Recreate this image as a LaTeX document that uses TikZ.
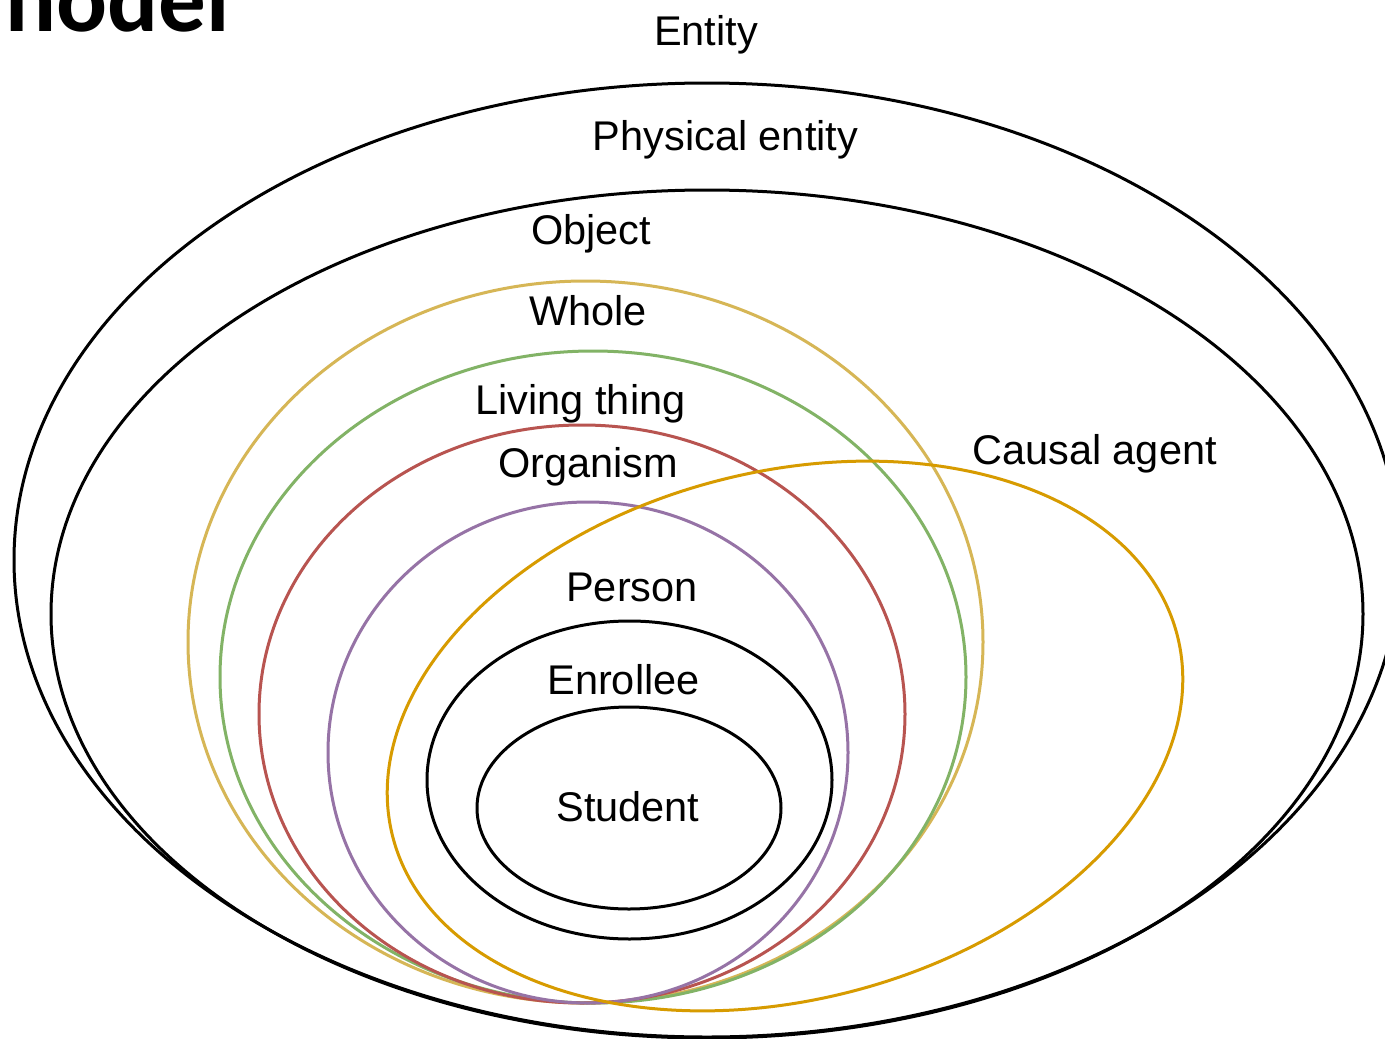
\documentclass[tikz,border=0pt]{standalone}
\usepackage{fontspec}
\setmainfont{Liberation Sans}
\newfontfamily\carlito{Carlito}
\definecolor{cwhole}{HTML}{D6B656}
\definecolor{cliving}{HTML}{82B366}
\definecolor{corg}{HTML}{B85450}
\definecolor{cperson}{HTML}{9673A6}
\definecolor{ccausal}{HTML}{D79B00}
\tikzset{
  ring/.style={line width=3pt},
  lbl/.style={inner sep=0pt, anchor=base, font=\fontsize{41.5}{48}\selectfont},
}
\begin{document}
\begin{tikzpicture}[x=1pt,y=1pt]
\clip (0,0) rectangle (1385,-1039);
\fill[white] (0,0) rectangle (1385,-1039);
% ellipses
\draw[ring,black] (707,-560) ellipse [x radius=693pt, y radius=477pt];
\draw[ring,black] (707,-614) ellipse [x radius=656pt, y radius=424pt];
\draw[ring,cwhole] (585.5,-642) ellipse [x radius=397.5pt, y radius=361pt];
\draw[ring,cliving] (593,-677) ellipse [x radius=373pt, y radius=326pt];
\draw[ring,corg] (582,-714) ellipse [x radius=323pt, y radius=289pt];
\draw[ring,cperson] (588,-752.5) ellipse [x radius=260pt, y radius=250.5pt];
\draw[ring,ccausal,rotate around={14.4:(785,-736)}] (785,-736) ellipse [x radius=405pt, y radius=264pt];
\draw[ring,black] (629.5,-780) ellipse [x radius=202.5pt, y radius=159pt];
\draw[ring,black] (629,-808) ellipse [x radius=152pt, y radius=101pt];
% labels
\node[lbl] (entity) at (706,-45) {Entity};
\node[lbl] (phys) at (725.5,-150) {Physical entity};
\node[lbl] (object) at (591,-244) {Object};
\node[lbl] (whole) at (588,-325) {Whole};
\node[lbl] (living) at (580.5,-414) {Living thing};
\node[lbl] (organism) at (588,-477) {Organism};
\node[lbl] (causal) at (1094.5,-464) {Causal agent};
\node[lbl] (person) at (632,-601) {Person};
\node[lbl] (enrollee) at (623.5,-694) {Enrollee};
\node[lbl] (student) at (628,-821) {Student};
\node[inner sep=0pt, anchor=base west, font=\carlito\bfseries\fontsize{95}{100}\selectfont] (title) at (5,-31) {nodel};
\end{tikzpicture}
\end{document}
